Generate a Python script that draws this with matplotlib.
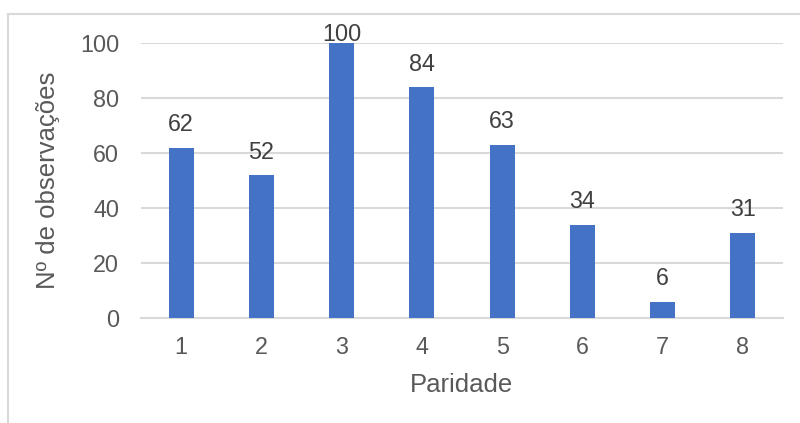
import matplotlib
matplotlib.use("Agg")
import matplotlib.pyplot as plt
from matplotlib.lines import Line2D

categories = ["1", "2", "3", "4", "5", "6", "7", "8"]
values = [62, 52, 100, 84, 63, 34, 6, 31]
yticks = [0, 20, 40, 60, 80, 100]

plt.rcParams['font.family'] = ['Liberation Sans', 'DejaVu Sans']

W, H = 800, 423
fig = plt.figure(figsize=(W/100, H/100), dpi=100)
ax = fig.add_axes([141/W, 1-318/H, 642/W, 275/H])

x = list(range(len(categories)))
ax.bar(x, values, width=0.31, color="#4472C4", zorder=3)
ax.set_xlim(-0.5, len(categories)-0.5)
ax.set_ylim(0, 100)
ax.set_yticks(yticks)
ax.set_xticks(x)
ax.set_xticklabels(categories)
ax.grid(axis='y', color="#D9D9D9", linewidth=1.5, zorder=0)
ax.set_axisbelow(True)
for s in ['top', 'right', 'left']:
    ax.spines[s].set_visible(False)
ax.spines['bottom'].set_color("#D9D9D9")
ax.spines['bottom'].set_linewidth(1.5)
ax.tick_params(axis='both', length=0, labelsize=16.8, colors="#595959")
ax.tick_params(axis='y', pad=15.8)
ax.tick_params(axis='x', pad=13)

# data labels: baseline ~16 px above bar top, clamped inside chart area
px_per_unit = 275 / 100
for xi, v in zip(x, values):
    ly = min(v + 16.3 / px_per_unit, 100.7)
    ax.text(xi, ly, str(v), ha='center', va='baseline', fontsize=16.8,
            color="#404040", clip_on=False, zorder=4)

ax.set_ylabel("Nº de observações", fontsize=18.5, color="#595959", labelpad=14)
ax.set_xlabel("Paridade", fontsize=18.5, color="#595959", labelpad=10)

# outer chart border (partial, cropped)
fig.add_artist(Line2D([8/W, 8/W], [0, 1-14/H], transform=fig.transFigure,
                      color="#D9D9D9", linewidth=1.5))
fig.add_artist(Line2D([8/W, 1], [1-14/H, 1-14/H], transform=fig.transFigure,
                      color="#D9D9D9", linewidth=1.5))

fig.savefig("out.png", dpi=100)
